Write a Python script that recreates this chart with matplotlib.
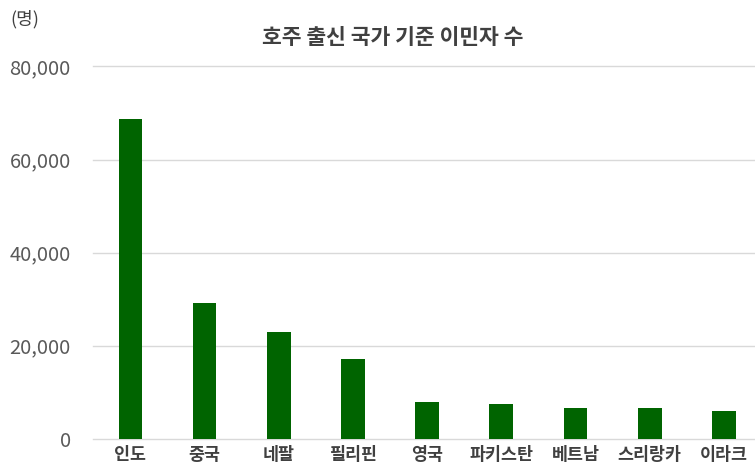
"""Bar chart: immigrants in Australia by country of birth."""

import matplotlib

matplotlib.use("Agg")
import matplotlib.pyplot as plt
import numpy as np
from matplotlib.ticker import FuncFormatter

plt.rcParams["font.family"] = ["Noto Sans CJK KR", "DejaVu Sans"]

countries = ["인도", "중국", "네팔", "필리핀", "영국", "파키스탄", "베트남", "스리랑카", "이라크"]
migrants = [68700, 29200, 23000, 17100, 7900, 7400, 6700, 6500, 5950]
y_ticks = [0, 20000, 40000, 60000, 80000]

fig = plt.figure(figsize=(7.55, 4.68), dpi=100)
ax = fig.add_axes([93 / 755, 1 - 438.7 / 468, 662 / 755, 372.2 / 468])

x = np.arange(len(countries))
ax.bar(x, migrants, width=0.32, color="#006400", zorder=3)

ax.set_xlim(-0.505, 8.42)
ax.set_ylim(0, 80000)
ax.set_yticks(y_ticks)
ax.yaxis.set_major_formatter(FuncFormatter(lambda v, _: f"{int(v):,}"))
ax.grid(axis="y", color="#d9d9d9", lw=1.0, zorder=0)
for gl in ax.get_ygridlines():
    gl.set_clip_on(False)
for s in ax.spines.values():
    s.set_visible(False)
ax.tick_params(axis="y", length=0, pad=16, labelsize=14.5, labelcolor="#595959")
ax.tick_params(axis="x", length=0, pad=5, labelsize=12.5, labelcolor="#404040")
ax.set_xticks(x)
ax.set_xticklabels(countries, fontweight="bold")

fig.text(393 / 755, 1 - 37 / 468, "호주 출신 국가 기준 이민자 수", ha="center", va="center",
         fontsize=15.5, fontweight="bold", color="#404040")
fig.text(10 / 755, 1 - 19 / 468, "(명)", ha="left", va="center", fontsize=13, color="#404040")

fig.savefig("out.png", dpi=100)
